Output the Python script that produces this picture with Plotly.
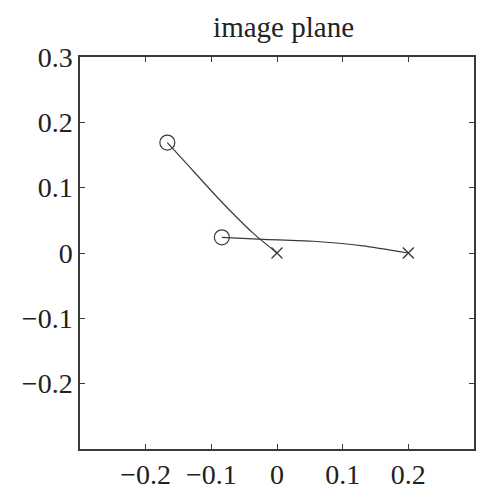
import plotly.graph_objects as go

# trajectory 1 (start circle -> end cross)
traj1_x = [-0.167, -0.137, -0.086, -0.036, 0.0]
traj1_y = [0.169, 0.136, 0.080, 0.030, 0.0]
# trajectory 2
traj2_x = [-0.084, -0.021, 0.055, 0.131, 0.2]
traj2_y = [0.024, 0.021, 0.018, 0.011, 0.0]

start_x = [traj1_x[0], traj2_x[0]]
start_y = [traj1_y[0], traj2_y[0]]
end_x = [traj1_x[-1], traj2_x[-1]]
end_y = [traj1_y[-1], traj2_y[-1]]

xticks = [-0.2, -0.1, 0, 0.1, 0.2]
xticklabels = ["\u22120.2", "\u22120.1", "0", "0.1", "0.2"]
yticks = [0.3, 0.2, 0.1, 0, -0.1, -0.2]
yticklabels = ["0.3", "0.2", "0.1", "0", "\u22120.1", "\u22120.2"]

col = "#3a3a3a"
font = "Liberation Serif"

fig = go.Figure()
for tx, ty in [(traj1_x, traj1_y), (traj2_x, traj2_y)]:
    fig.add_trace(go.Scatter(x=tx, y=ty, mode="lines",
                             line=dict(color=col, width=1.2, shape="spline", smoothing=0.6)))
fig.add_trace(go.Scatter(x=start_x, y=start_y, mode="markers",
                         marker=dict(symbol="circle-open", size=15, color=col, line=dict(width=1.2, color=col))))
fig.add_trace(go.Scatter(x=end_x, y=end_y, mode="markers",
                         marker=dict(symbol="x-thin-open", size=11, color=col, line=dict(width=1.4, color=col))))

axis_common = dict(showgrid=False, zeroline=False, showline=True, linecolor=col, linewidth=1.5,
                   mirror="ticks", ticks="inside", ticklen=5, tickcolor=col, tickwidth=1.2,
                   tickfont=dict(family=font, size=28, color="#222"))
fig.update_xaxes(range=[-0.3, 0.3], tickvals=xticks, ticktext=xticklabels, **axis_common)
fig.update_yaxes(range=[-0.3, 0.3], tickvals=yticks, ticktext=yticklabels, **axis_common)

fig.update_layout(
    width=479, height=493,
    margin=dict(l=80, r=3, t=57, b=42),
    paper_bgcolor="white", plot_bgcolor="white",
    showlegend=False,
    title=dict(text="image plane", x=0.592, xanchor="center", y=0.945, yanchor="middle",
               font=dict(family=font, size=29, color="#222")),
)
fig.write_html("out.html")
